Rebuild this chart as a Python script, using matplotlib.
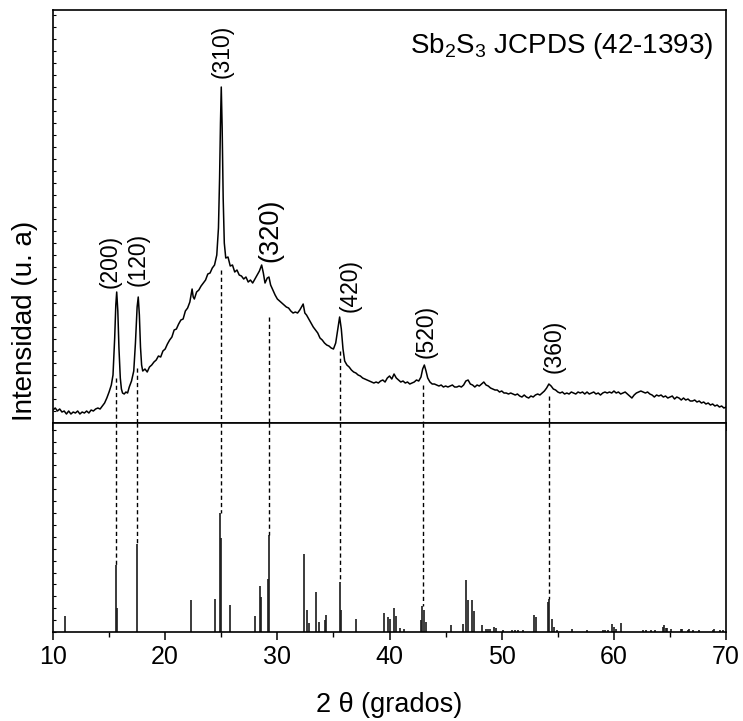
import matplotlib
matplotlib.use('Agg')
import matplotlib.pyplot as plt
from matplotlib.ticker import MultipleLocator

plt.rcParams['font.family'] = ['Liberation Sans', 'DejaVu Sans']
plt.rcParams['mathtext.fontset'] = 'custom'
plt.rcParams['mathtext.rm'] = 'Liberation Sans'
plt.rcParams['mathtext.it'] = 'Liberation Sans:italic'

dos_theta = [
    10.0, 10.2, 10.4, 10.6, 10.8, 11.0, 11.2, 11.4, 11.6, 11.8, 12.0, 12.2, 12.4, 12.6, 12.8,
    13.0, 13.2, 13.4, 13.6, 13.8, 14.0, 14.2, 14.4, 14.6, 14.8, 15.0, 15.2, 15.35, 15.5, 15.6,
    15.68, 15.78, 15.88, 16.0, 16.1, 16.2, 16.35, 16.5, 16.65, 16.8, 17.0, 17.2, 17.35, 17.5,
    17.6, 17.7, 17.8, 17.9, 18.0, 18.2, 18.4, 18.6, 18.8, 19.0, 19.2, 19.4, 19.6, 19.8, 20.0,
    20.2, 20.4, 20.6, 20.8, 21.0, 21.2, 21.4, 21.6, 21.8, 22.0, 22.2, 22.4, 22.5, 22.6, 22.8,
    23.0, 23.2, 23.4, 23.6, 23.8, 24.0, 24.2, 24.4, 24.6, 24.75, 24.85, 24.93, 25.0, 25.08,
    25.17, 25.27, 25.4, 25.6, 25.8, 26.0, 26.2, 26.4, 26.6, 26.8, 27.0, 27.2, 27.4, 27.6, 27.8,
    28.0, 28.2, 28.4, 28.6, 28.75, 28.9, 29.1, 29.25, 29.4, 29.6, 29.8, 30.0, 30.2, 30.4, 30.6,
    30.8, 31.0, 31.2, 31.4, 31.6, 31.8, 32.0, 32.15, 32.3, 32.45, 32.6, 32.8, 33.0, 33.2, 33.4,
    33.6, 33.8, 34.0, 34.2, 34.4, 34.6, 34.8, 35.0, 35.2, 35.4, 35.55, 35.7, 35.85, 36.0, 36.2,
    36.4, 36.6, 36.8, 37.0, 37.2, 37.4, 37.6, 37.8, 38.0, 38.2, 38.4, 38.6, 38.8, 39.0, 39.2,
    39.4, 39.6, 39.8, 40.0, 40.2, 40.4, 40.6, 40.8, 41.0, 41.2, 41.4, 41.6, 41.8, 42.0, 42.2,
    42.4, 42.6, 42.8, 42.95, 43.1, 43.25, 43.4, 43.6, 43.8, 44.0, 44.2, 44.4, 44.6, 44.8, 45.0,
    45.2, 45.4, 45.6, 45.8, 46.0, 46.2, 46.4, 46.6, 46.8, 47.0, 47.2, 47.4, 47.6, 47.8, 48.0,
    48.2, 48.4, 48.6, 48.8, 49.0, 49.2, 49.4, 49.6, 49.8, 50.0, 50.2, 50.4, 50.6, 50.8, 51.0,
    51.2, 51.4, 51.6, 51.8, 52.0, 52.2, 52.4, 52.6, 52.8, 53.0, 53.2, 53.4, 53.6, 53.8, 54.0,
    54.2, 54.4, 54.6, 54.8, 55.0, 55.2, 55.4, 55.6, 55.8, 56.0, 56.2, 56.4, 56.6, 56.8, 57.0,
    57.2, 57.4, 57.6, 57.8, 58.0, 58.2, 58.4, 58.6, 58.8, 59.0, 59.2, 59.4, 59.6, 59.8, 60.0,
    60.2, 60.4, 60.6, 60.8, 61.0, 61.2, 61.4, 61.6, 61.8, 62.0, 62.2, 62.4, 62.6, 62.8, 63.0,
    63.2, 63.4, 63.6, 63.8, 64.0, 64.2, 64.4, 64.6, 64.8, 65.0, 65.2, 65.4, 65.6, 65.8, 66.0,
    66.2, 66.4, 66.6, 66.8, 67.0, 67.2, 67.4, 67.6, 67.8, 68.0, 68.2, 68.4, 68.6, 68.8, 69.0,
    69.2, 69.4, 69.6, 69.8, 70.0]
intensidad = [
    13, 15, 12, 14, 11, 12, 9, 12, 9, 11, 10, 12, 9, 11, 10,
    12, 10, 13, 12, 14, 15, 14, 17, 20, 25, 31, 38, 48, 85, 118,
    131, 112, 75, 45, 34, 30, 29, 31, 30, 36, 42, 52, 80, 116,
    126, 108, 76, 58, 52, 54, 51, 56, 58, 61, 63, 67, 66, 72, 74,
    79, 83, 86, 93, 94, 99, 103, 104, 112, 115, 121, 134, 126, 124, 131,
    133, 137, 140, 143, 149, 150, 155, 158, 168, 195, 245, 300, 336, 295,
    225, 180, 165, 166, 157, 158, 151, 153, 148, 147, 144, 146, 141, 143, 140,
    144, 148, 152, 158, 150, 140, 145, 146, 138, 133, 128, 124, 122, 120, 118,
    116, 115, 112, 110, 111, 110, 113, 116, 119, 110, 108, 104, 100, 96, 93,
    90, 85, 83, 80, 78, 77, 75, 74, 80, 95, 106, 94, 74, 62, 58,
    56, 53, 51, 50, 48, 47, 45, 44, 43, 42, 41, 40, 41, 40, 42,
    43, 41, 45, 47, 44, 49, 45, 43, 41, 42, 40, 41, 39, 40, 41,
    43, 42, 46, 54, 58, 52, 45, 41, 39, 39, 38, 37, 38, 36, 37,
    36, 37, 38, 36, 36, 37, 36, 38, 42, 43, 39, 38, 36, 38, 37,
    39, 41, 38, 37, 35, 34, 33, 33, 31, 32, 30, 30, 29, 30, 29,
    28, 29, 27, 26, 28, 26, 25, 27, 26, 28, 29, 28, 30, 32, 35,
    39, 37, 34, 33, 31, 30, 31, 29, 30, 29, 31, 30, 29, 31, 30,
    31, 29, 31, 29, 30, 31, 29, 30, 28, 30, 31, 30, 31, 30, 32,
    30, 31, 29, 30, 31, 29, 27, 25, 28, 30, 31, 32, 31, 30, 31,
    29, 28, 26, 28, 27, 28, 26, 27, 25, 26, 27, 24, 26, 25, 23,
    25, 23, 24, 22, 22, 23, 21, 22, 20, 21, 19, 20, 18, 19, 17,
    18, 16, 17, 15, 16]

# patrón de referencia JCPDS 42-1393 (posición, intensidad relativa)
ref_pos = [11.1, 15.62, 15.74, 17.52, 22.27, 24.47, 24.86, 25.0, 25.75, 28.04, 28.48, 28.57,
           29.14, 29.26, 32.38, 32.62, 32.85, 33.42, 33.69, 34.22, 34.34, 35.56, 35.68, 37.01,
           39.54, 39.9, 40.04, 40.37, 40.6, 40.94, 41.29, 42.78, 42.93, 43.05, 43.28, 45.45,
           46.58, 46.79, 47.03, 47.35, 47.56, 48.25, 48.57, 48.75, 48.96, 49.31, 49.46, 50.15,
           50.92, 51.19, 51.42, 51.93, 52.91, 53.06, 54.16, 54.25, 54.46, 54.67, 54.9, 56.24,
           57.58, 59.0, 59.24, 59.51, 59.86, 59.99, 60.19, 60.64, 62.63, 62.84, 63.29, 63.67,
           64.36, 64.47, 64.62, 64.74, 65.1, 65.99, 66.1, 66.58, 66.73, 67.09, 67.62, 68.81,
           68.93, 69.46, 69.76]
ref_int = [13.2, 56.6, 20.5, 73.7, 26.6, 27.5, 100, 79, 22.7, 13.2, 38.9, 29.4,
           44.8, 81.8, 65.8, 18.2, 7.6, 33.6, 8.4, 10.4, 14.6, 42, 18.2, 11.2,
           16.2, 12.6, 11.2, 20.5, 13.2, 3.4, 2.2, 10.4, 21.6, 18.2, 8.4, 5.6,
           6.4, 43.4, 26.6, 26.6, 17.6, 5.6, 2.8, 2.2, 2.2, 4.2, 3.1, 1.4,
           2, 1.4, 1.4, 2, 14.6, 12.6, 25.2, 28, 11.2, 4.2, 1.4, 2.8,
           1.4, 1.4, 2, 2, 6.4, 4.2, 2.8, 7.6, 2, 2, 1.4, 1.4,
           4.2, 5.6, 3.4, 3.4, 2.8, 2.8, 2.8, 2, 2.8, 1.4, 1.4, 2,
           2.8, 2, 2]

# picos indexados
planos = ['(200)', '(120)', '(310)', '(320)', '(420)', '(520)', '(360)']
pico_pos = [15.65, 17.52, 24.95, 29.26, 35.56, 42.95, 54.2]
pico_ini = [45, 55, 153, 106, 72, 38, 27]          # arranque de la punteada (arriba)
pico_ref = [56.6, 73.7, 100, 81.8, 42, 21.6, 28]   # tope de la barra de referencia

# donde van los rótulos de cada plano
etiq_x = [15.08, 17.6, 25.04, 29.35, 36.45, 43.3, 54.64]
etiq_y = [135, 137, 345, 161, 111, 65, 50]

fig = plt.figure(figsize=(7.43, 7.21), dpi=100)
ax1 = fig.add_axes([0.0713, 0.4133, 0.906, 0.5728])
ax2 = fig.add_axes([0.0713, 0.1234, 0.906, 0.2899], sharex=ax1)

# panel superior: muestra
ax1.plot(dos_theta, intensidad, color='black', lw=1.1)
ax1.set_ylim(0, 413)
ax1.set_xlim(10, 70)

# panel inferior: referencia
ax2.vlines(ref_pos, 0, ref_int, color='#1a1a1a', lw=1.2)
ax2.set_ylim(0, 175.6)

# líneas punteadas que unen picos con la referencia
for x0, y0, yr in zip(pico_pos, pico_ini, pico_ref):
    ax1.plot([x0, x0], [y0, 0], color='black', lw=1, ls=(0, (3, 2.2)))
    ax2.plot([x0, x0], [175.6, yr], color='black', lw=1, ls=(0, (3, 2.2)))

for txt, xt, yt in zip(planos, etiq_x, etiq_y):
    tam = 19.5 if txt == '(320)' else 16.5
    ax1.text(xt, yt, txt, rotation=90, ha='center', va='bottom', fontsize=tam)

ax1.text(0.981, 0.95, r'Sb$_2$S$_3$ JCPDS (42-1393)', transform=ax1.transAxes,
         ha='right', va='top', fontsize=20)

# ejes y marcas
for ax in (ax1, ax2):
    for s in ax.spines.values():
        s.set_linewidth(1.2)
    ax.xaxis.set_major_locator(MultipleLocator(10))
    ax.xaxis.set_minor_locator(MultipleLocator(5))
    ax.tick_params(axis='x', which='major', direction='out', length=6, width=1.1)
    ax.tick_params(axis='x', which='minor', direction='out', length=3.5, width=1.0)
    ax.tick_params(axis='y', which='both', direction='in', length=2.5, width=0.8,
                   labelleft=False, left=True, right=False)

ax1.yaxis.set_major_locator(MultipleLocator(12))
ax2.yaxis.set_major_locator(MultipleLocator(10))
ax1.tick_params(axis='x', labelbottom=False)
ax2.tick_params(axis='x', labelsize=18, pad=3)

fig.text(0.524, 0.022, '2 θ (grados)', ha='center', va='center', fontsize=19.5)
fig.text(0.034, 0.555, 'Intensidad (u. a)', ha='center', va='center', rotation=90, fontsize=20)

fig.savefig('out.png', dpi=100)
